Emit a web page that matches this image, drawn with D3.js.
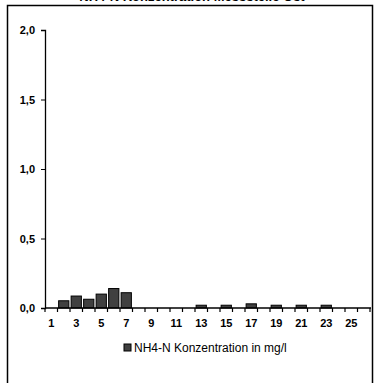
<!DOCTYPE html>
<html><head><meta charset="utf-8">
<script src="https://cdn.jsdelivr.net/npm/d3@7"></script>
<style>body{margin:0;background:#fff}svg{display:block}</style>
</head><body><svg id="c" width="374" height="383"></svg>
<script>
const title = "NH4-N Konzentration Messstelle Ost";
const categories = d3.range(1, 27);
const values = [0, 0.052, 0.086, 0.063, 0.10, 0.14, 0.11, 0, 0, 0, 0, 0, 0.02, 0, 0.02, 0, 0.03, 0, 0.02, 0, 0.02, 0, 0.02, 0, 0, 0];
const yTicks = [0, 0.5, 1.0, 1.5, 2.0];
const xTickLabels = [1,3,5,7,9,11,13,15,17,19,21,23,25];
const seriesName = "NH4-N Konzentration in mg/l";

const svg = d3.select("#c");
svg.append("rect").attr("x",7.5).attr("y",5.5).attr("width",365).attr("height",395)
  .attr("fill","#fff").attr("stroke","#000").attr("stroke-width",1.5);
svg.append("text").attr("x",192).attr("y",1).attr("text-anchor","middle")
  .attr("font-family","Arial, Liberation Sans").attr("font-size",13).attr("font-weight","bold")
  .attr("fill","#000").text(title);

const x = d3.scaleBand().domain(categories).range([45, 370]).paddingInner(0.18).paddingOuter(0.09);
const xb = d3.scaleBand().domain(categories).range([45, 370]);
const y = d3.scaleLinear().domain([0, 2]).range([308, 30]);

const fontF = "Arial, 'Liberation Sans', sans-serif";
const ya = svg.append("g").attr("transform","translate(45,0)")
  .call(d3.axisLeft(y).tickValues(yTicks).tickSize(4).tickPadding(6).tickFormat(d=>d3.format(".1f")(d).replace(".",",")));
ya.select(".domain").attr("stroke","#000").attr("stroke-width",1.3);
ya.selectAll("text").attr("font-family",fontF).attr("font-size",11).attr("font-weight","bold").attr("fill","#000");

svg.append("g").selectAll("rect").data(categories).join("rect")
  .attr("x", d=>x(d)).attr("width", x.bandwidth())
  .attr("y", (d,i)=>y(values[i])).attr("height",(d,i)=>y(0)-y(values[i]))
  .attr("fill","#404040").attr("stroke","#000").attr("stroke-width",1);

const xa = svg.append("g").attr("transform",`translate(0,${y(0)})`);
xa.append("line").attr("x1",45).attr("x2",371).attr("stroke","#000").attr("stroke-width",1.3);
xa.selectAll(".tk").data(categories.concat([27])).join("line").attr("class","tk")
  .attr("x1",d=>d<=26?xb(d):370).attr("x2",d=>d<=26?xb(d):370)
  .attr("y1",0).attr("y2",4).attr("stroke","#000").attr("stroke-width",1.2);
xa.selectAll("text").data(xTickLabels).join("text")
  .attr("x",d=>xb(d)+xb.bandwidth()/2).attr("y",19).attr("text-anchor","middle")
  .attr("font-family",fontF).attr("font-size",11).attr("font-weight","bold").attr("fill","#000").text(d=>d);

svg.append("rect").attr("x",124).attr("y",344).attr("width",7).attr("height",7)
  .attr("fill","#404040").attr("stroke","#000").attr("stroke-width",1);
svg.append("text").attr("x",134).attr("y",352).attr("font-family",fontF).attr("font-size",12)
  .attr("fill","#000").text(seriesName);
</script></body></html>
